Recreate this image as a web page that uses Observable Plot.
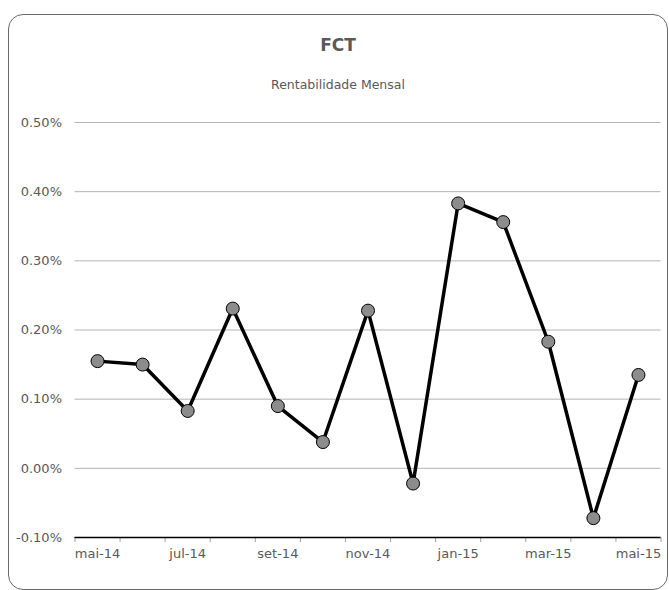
<!DOCTYPE html>
<html>
<head>
<meta charset="utf-8">
<script src="https://cdn.jsdelivr.net/npm/d3@7"></script>
<script src="https://cdn.jsdelivr.net/npm/@observablehq/plot@0.6"></script>
<style>
  html, body { margin: 0; padding: 0; background: #fff; }
  body { width: 669px; height: 590px; overflow: hidden; position: relative; font-family: "DejaVu Sans", sans-serif; }
  #box {
    position: absolute; left: 8px; top: 14px; width: 660px; height: 576px;
    box-sizing: border-box; border: 1.5px solid #6a6a6a; border-radius: 15px; background: #fff;
  }
  #title { height: 40px; line-height: 40px; margin-top: 10px; text-align: center; font-weight: bold; font-size: 17px; color: #595959; }
  #subtitle { height: 30px; line-height: 30px; margin-top: 5px; text-align: center; font-size: 12.5px; color: #595959; }
  #chart svg { display: block; }
</style>
</head>
<body>
<div id="box">
  <div id="title">FCT</div>
  <div id="subtitle">Rentabilidade Mensal</div>
  <div id="chart"></div>
</div>
<script>
const months = ["mai-14","jun-14","jul-14","ago-14","set-14","out-14","nov-14","dez-14","jan-15","fev-15","mar-15","abr-15","mai-15"];
const values = [0.155, 0.150, 0.083, 0.231, 0.090, 0.038, 0.228, -0.022, 0.383, 0.356, 0.183, -0.072, 0.135];
const yTicks = [-0.1, 0.0, 0.1, 0.2, 0.3, 0.4, 0.5];
const labelMonths = [0, 2, 4, 6, 8, 10, 12];

const data = months.map((m, i) => ({i, month: m, value: values[i]}));
const boundaries = d3.range(months.length + 1).map(k => k - 0.5);

const chart = Plot.plot({
  width: 656.5,
  height: 472,
  marginLeft: 65.5,
  marginRight: 5,
  marginTop: 22,
  marginBottom: 35,
  style: {fontFamily: "DejaVu Sans, sans-serif", fontSize: "13px", color: "#595959", background: "transparent"},
  x: {type: "linear", domain: [-0.5, months.length - 0.5]},
  y: {domain: [-0.1, 0.5]},
  marks: [
    Plot.ruleY(yTicks.filter(v => v > -0.1), {stroke: "#b4b4b4", strokeWidth: 1}),
    Plot.axisY({ticks: yTicks, tickSize: 0, tickPadding: 13, tickFormat: d => d.toFixed(2) + "%", fill: "#595959", label: null}),
    Plot.axisX({ticks: boundaries, tickSize: 5, tickFormat: () => "", stroke: "#a0a0a0", label: null}),
    Plot.axisX({ticks: labelMonths, tickSize: 0, tickPadding: 11, tickFormat: i => months[i], fill: "#595959", label: null}),
    Plot.ruleY([-0.1], {stroke: "#000", strokeWidth: 1.5}),
    Plot.line(data, {x: "i", y: "value", stroke: "#000", strokeWidth: 3.5, strokeLinejoin: "miter"}),
    Plot.dot(data, {x: "i", y: "value", r: 6.5, fill: "#8c8c8c", stroke: "#000", strokeWidth: 1})
  ]
});
document.getElementById("chart").appendChild(chart);
</script>
</body>
</html>
